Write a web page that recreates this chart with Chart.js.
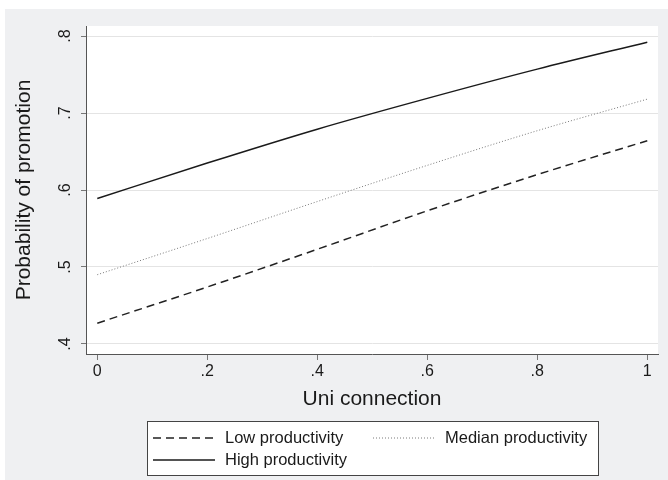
<!DOCTYPE html>
<html>
<head>
<meta charset="utf-8">
<script src="https://cdn.jsdelivr.net/npm/chart.js@4/dist/chart.umd.min.js"></script>
<style>
  html, body { margin: 0; padding: 0; background: #ffffff; }
  canvas { display: block; }
</style>
</head>
<body>
<canvas id="c" width="668" height="480"></canvas>
<script>
// ---- data ----
const uniConnection = [0, 0.2, 0.4, 0.6, 0.8, 1];
const lowProductivity    = [0.427, 0.474, 0.523, 0.573, 0.620, 0.664];
const medianProductivity = [0.490, 0.537, 0.585, 0.632, 0.677, 0.718];
const highProductivity   = [0.589, 0.635, 0.679, 0.719, 0.757, 0.792];
const seriesNames = ["Low productivity", "Median productivity", "High productivity"];
const xTicks = [0, 0.2, 0.4, 0.6, 0.8, 1];
const xTickLabels = ["0", ".2", ".4", ".6", ".8", "1"];
const yTicks = [0.4, 0.5, 0.6, 0.7, 0.8];
const yTickLabels = [".4", ".5", ".6", ".7", ".8"];
const xTitle = "Uni connection";
const yTitle = "Probability of promotion";

const FONT = "'Liberation Sans', Arial, sans-serif";

function toPoints(vals) {
  return uniConnection.map((x, i) => ({ x: x, y: vals[i] }));
}

const bgPlugin = {
  id: 'bg',
  beforeDraw(chart) {
    const ctx = chart.ctx, a = chart.chartArea;
    ctx.save();
    ctx.fillStyle = '#ffffff';
    ctx.fillRect(0, 0, chart.width, chart.height);
    ctx.fillStyle = '#eff0f2';
    ctx.fillRect(5, 9, chart.width - 5, chart.height - 9);
    ctx.fillStyle = '#ffffff';
    ctx.fillRect(a.left, a.top, a.right - a.left, a.bottom - a.top);
    ctx.restore();
  }
};

const legendPlugin = {
  id: 'boxLegend',
  afterDraw(chart) {
    const ctx = chart.ctx;
    ctx.save();
    const bx = 147, by = 421, bw = 451, bh = 54;
    ctx.fillStyle = '#ffffff';
    ctx.fillRect(bx, by, bw, bh);
    ctx.strokeStyle = '#444444';
    ctx.lineWidth = 1;
    ctx.strokeRect(bx + 0.5, by + 0.5, bw, bh);
    const slots = [
      { x: 153, y: 438 },
      { x: 373, y: 438 },
      { x: 153, y: 460 }
    ];
    chart.data.datasets.forEach((ds, i) => {
      const s = slots[i];
      ctx.beginPath();
      ctx.strokeStyle = ds.borderColor;
      ctx.lineWidth = ds.borderWidth;
      ctx.setLineDash(ds.borderDash || []);
      ctx.moveTo(s.x, s.y);
      ctx.lineTo(s.x + 62, s.y);
      ctx.stroke();
      ctx.setLineDash([]);
      ctx.fillStyle = '#1a1a1a';
      ctx.font = '16.5px ' + FONT;
      ctx.textBaseline = 'middle';
      ctx.textAlign = 'left';
      ctx.fillText(ds.label, s.x + 72, s.y);
    });
    ctx.restore();
  }
};

new Chart(document.getElementById('c'), {
  type: 'line',
  data: {
    datasets: [
      {
        label: seriesNames[0],
        data: toPoints(lowProductivity),
        borderColor: '#222222',
        borderWidth: 1.5,
        borderDash: [8, 5],
        pointRadius: 0,
        fill: false,
        cubicInterpolationMode: 'monotone'
      },
      {
        label: seriesNames[1],
        data: toPoints(medianProductivity),
        borderColor: '#7a7a7a',
        borderWidth: 1,
        borderDash: [1, 2],
        pointRadius: 0,
        fill: false,
        cubicInterpolationMode: 'monotone'
      },
      {
        label: seriesNames[2],
        data: toPoints(highProductivity),
        borderColor: '#1a1a1a',
        borderWidth: 1.5,
        pointRadius: 0,
        fill: false,
        cubicInterpolationMode: 'monotone'
      }
    ]
  },
  options: {
    responsive: false,
    animation: false,
    events: [],
    layout: { padding: { left: 0, top: 26, right: 10, bottom: 68 } },
    plugins: { legend: { display: false }, tooltip: { enabled: false } },
    scales: {
      x: {
        type: 'linear',
        min: -0.0205,
        max: 1.0195,
        afterBuildTicks(scale) { scale.ticks = xTicks.map(v => ({ value: v })); },
        afterFit(scale) { scale.height = 58; },
        ticks: {
          color: '#1a1a1a',
          font: { family: FONT, size: 16 },
          padding: 2,
          maxRotation: 0,
          autoSkip: false,
          callback(value) { const i = xTicks.indexOf(value); return i >= 0 ? xTickLabels[i] : ''; }
        },
        grid: { drawOnChartArea: false, drawTicks: true, tickLength: 6, tickColor: '#777777', tickWidth: 1 },
        border: { display: true, color: '#555555', width: 1 },
        title: {
          display: true,
          text: xTitle,
          color: '#1a1a1a',
          font: { family: FONT, size: 21 },
          padding: { top: 0, bottom: 0 }
        }
      },
      y: {
        type: 'linear',
        min: 0.387,
        max: 0.813,
        afterBuildTicks(scale) { scale.ticks = yTicks.map(v => ({ value: v })); },
        afterFit(scale) { scale.width = 86; },
        ticks: {
          color: '#1a1a1a',
          font: { family: FONT, size: 16 },
          padding: 9,
          minRotation: 90,
          maxRotation: 90,
          crossAlign: 'center',
          autoSkip: false,
          callback(value) { const i = yTicks.findIndex(v => Math.abs(v - value) < 1e-9); return i >= 0 ? yTickLabels[i] : ''; }
        },
        grid: { color: '#e4e4e4', lineWidth: 1, drawTicks: true, tickLength: 5, tickColor: '#777777', tickWidth: 1 },
        border: { display: true, color: '#555555', width: 1 },
        title: {
          display: true,
          text: yTitle,
          color: '#1a1a1a',
          font: { family: FONT, size: 21 },
          padding: { top: 12, bottom: 0 }
        }
      }
    }
  },
  plugins: [bgPlugin, legendPlugin]
});
</script>
</body>
</html>
